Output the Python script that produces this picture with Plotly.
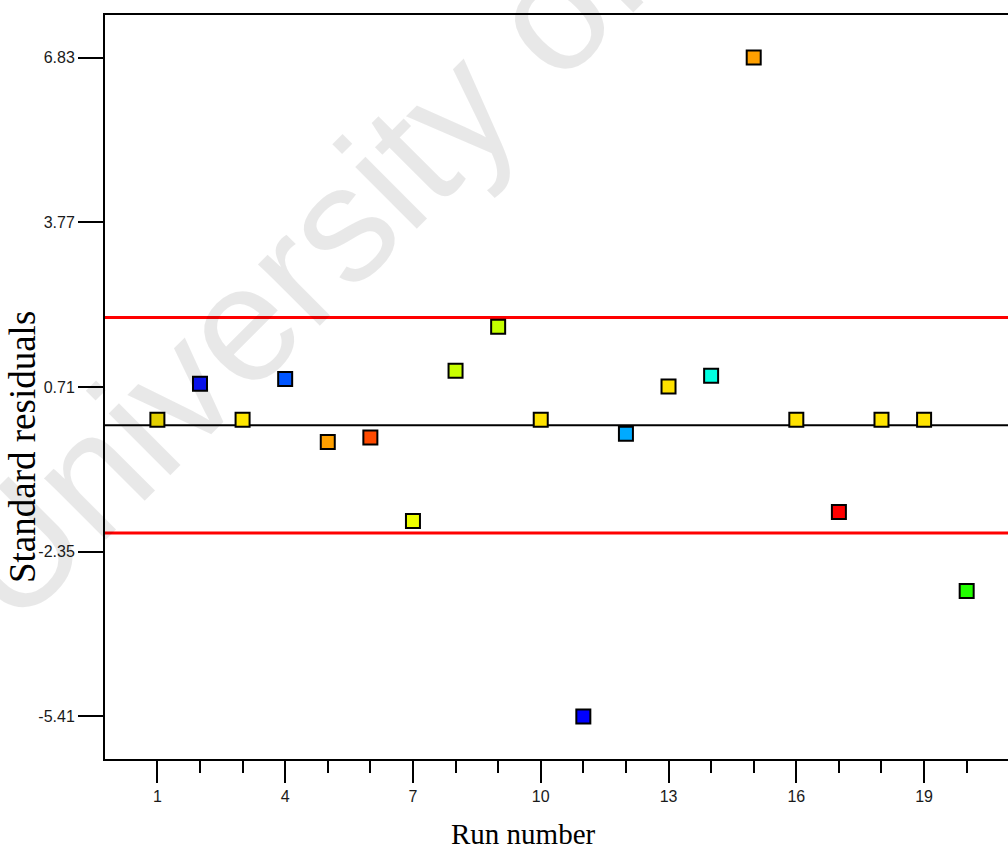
import plotly.graph_objects as go

# Standardised residuals per run
runs = list(range(1, 21))
residuals = [0.10, 0.77, 0.10, 0.86, -0.31, -0.23, -1.78, 1.01, 1.83, 0.10,
             -5.41, -0.16, 0.72, 0.92, 6.83, 0.10, -1.61, 0.10, 0.10, -3.08]
point_colors = ["#e3cf00", "#0a14ff", "#ffe600", "#0055ff", "#ffa000",
                "#ff4a00", "#eeff00", "#c8ff00", "#c4ff00", "#ffe200",
                "#0000ff", "#00aaff", "#ffe200", "#00ffe0", "#ffa000",
                "#ffe200", "#ff0000", "#ffe400", "#ffe400", "#22ff00"]

# Control limits and centre line
limits = [2.0, -2.0]
centre = 0.0

# Axis ticks
x_major = [1, 4, 7, 10, 13, 16, 19]
x_minor = list(range(1, 22))
y_ticks = [6.83, 3.77, 0.71, -2.35, -5.41]
y_ticktext = ["6.83", "3.77", "0.71", "-2.35", "-5.41"]

x_range = [-0.23, 20.97]
y_range = [-6.20, 7.62]

fig = go.Figure()

# Horizontal reference lines
for lim in limits:
    fig.add_trace(go.Scatter(x=x_range, y=[lim, lim], mode="lines",
                             line=dict(color="#ff0000", width=3),
                             hoverinfo="skip", showlegend=False))
fig.add_trace(go.Scatter(x=x_range, y=[centre, centre], mode="lines",
                         line=dict(color="#000000", width=2),
                         hoverinfo="skip", showlegend=False))

# Residual points
fig.add_trace(go.Scatter(
    x=runs, y=residuals, mode="markers",
    marker=dict(symbol="square", size=14, color=point_colors,
                line=dict(color="#000000", width=2)),
    showlegend=False,
))

axis_font = dict(family="Liberation Sans, Arial, sans-serif", size=16, color="#1a1a1a")

fig.update_layout(
    width=1008, height=853,
    margin=dict(l=105, r=0, t=15, b=94),
    paper_bgcolor="white", plot_bgcolor="white",
    xaxis=dict(
        range=x_range, showgrid=False, zeroline=False,
        showline=True, linecolor="#000000", linewidth=2, mirror=True,
        tickmode="array", tickvals=x_major, ticktext=[str(v) for v in x_major],
        ticks="outside", ticklen=22, tickwidth=2, tickcolor="#000000",
        tickfont=axis_font,
        minor=dict(tickmode="array", tickvals=x_minor, ticks="outside",
                   ticklen=12, tickwidth=2, tickcolor="#000000"),
    ),
    yaxis=dict(
        range=y_range, showgrid=False, zeroline=False,
        showline=True, linecolor="#000000", linewidth=2, mirror=False,
        tickmode="array", tickvals=y_ticks, ticktext=y_ticktext,
        ticks="outside", ticklen=25, tickwidth=2, tickcolor="#000000",
        tickfont=axis_font,
    ),
    annotations=[
        # watermark
        dict(text="University of", xref="paper", yref="paper",
             x=0.2104, y=0.657, xanchor="center", yanchor="middle",
             textangle=-45, showarrow=False,
             font=dict(family="Liberation Sans, Arial, sans-serif", size=165,
                       color="rgba(0,0,0,0.09)")),
        # axis titles
        dict(text="Run number", xref="paper", yref="paper",
             x=(523 - 105) / 903, y=(759 - 834) / 744,
             xanchor="center", yanchor="middle", showarrow=False,
             font=dict(family="Liberation Serif, Times New Roman, serif",
                       size=29, color="#000000")),
        dict(text="Standard residuals", xref="paper", yref="paper",
             x=(23 - 105) / 903, y=(759 - 447) / 744,
             xanchor="center", yanchor="middle", showarrow=False,
             textangle=-90,
             font=dict(family="Liberation Serif, Times New Roman, serif",
                       size=37, color="#000000")),
    ],
)

fig.write_html("out.html")
